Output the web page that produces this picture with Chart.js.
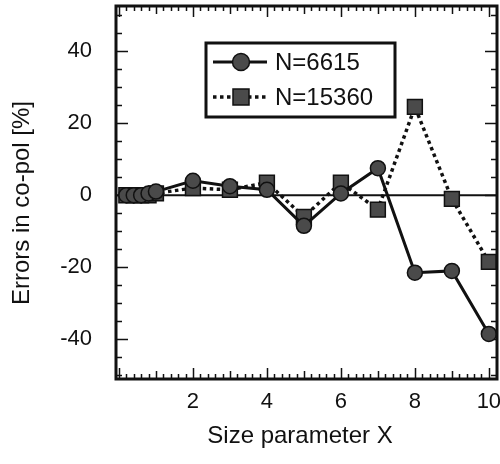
<!DOCTYPE html>
<html>
<head>
<meta charset="utf-8">
<script src="https://cdn.jsdelivr.net/npm/chart.js@4.4.0/dist/chart.umd.min.js"></script>
<style>
  html, body { margin: 0; padding: 0; background: #fff; }
  canvas { display: block; }
</style>
</head>
<body>
<canvas id="canvas" width="500" height="464"></canvas>
<script>
// size parameter X and the co-pol error (%) for the two meshes
const sizeParam = [0.2, 0.4, 0.6, 0.8, 1, 2, 3, 4, 5, 6, 7, 8, 9, 10];
const errN6615 = [0, 0, 0, 0.5, 1, 4, 2.5, 1.5, -8.5, 0.5, 7.5, -21.5, -21, -38.5];
const errN15360 = [0, 0, 0, 0, 0.5, 2, 1.5, 3.5, -6, 3.5, -4, 24.5, -1, -18.5];
const seriesLabels = ['N=6615', 'N=15360'];
const xTicks = [2, 4, 6, 8, 10];
const yTicks = [-40, -20, 0, 20, 40];
const xTitle = 'Size parameter X';
const yTitle = 'Errors in co-pol [%]';

const FONT = "'Liberation Sans', Arial, Helvetica, sans-serif";
const INK = '#111';
const MARK = '#4a4a4a';

function toPoints(ys) {
    return sizeParam.map(function (x, i) { return { x: x, y: ys[i] }; });
}

// keep the plot box where it is: no extra room for edge labels
function noEdgePadding(s) {
    s.paddingLeft = 0;
    s.paddingRight = 0;
    s.paddingTop = 0;
    s.paddingBottom = 0;
}

// box, inward ticks on all four sides and the zero line
const framePlugin = {
    id: 'frame',
    beforeDatasetsDraw(chart) {
        const { ctx, chartArea: a, scales: { x, y } } = chart;
        ctx.save();
        ctx.strokeStyle = INK;
        ctx.lineWidth = 2;
        const y0 = y.getPixelForValue(0);
        ctx.beginPath();
        ctx.moveTo(a.left, y0);
        ctx.lineTo(a.right, y0);
        ctx.stroke();

        ctx.lineWidth = 1.5;
        ctx.beginPath();
        for (let i = 0; i <= 51; i++) {
            const px = Math.round(x.getPixelForValue(i / 5)) + 0.5;
            if (px > a.right - 2) break;
            const len = i % 10 === 0 ? 11 : (i % 5 === 0 ? 8 : 5);
            ctx.moveTo(px, a.bottom);
            ctx.lineTo(px, a.bottom - len);
            ctx.moveTo(px, a.top);
            ctx.lineTo(px, a.top + len);
        }
        for (let v = -50; v <= 50; v += 5) {
            const py = Math.round(y.getPixelForValue(v)) + 0.5;
            const len = v % 20 === 0 ? 12 : 6;
            ctx.moveTo(a.left, py);
            ctx.lineTo(a.left + len, py);
            ctx.moveTo(a.right, py);
            ctx.lineTo(a.right - len, py);
        }
        ctx.stroke();
        ctx.restore();
    },
    afterDatasetsDraw(chart) {
        const { ctx, chartArea: a } = chart;
        ctx.save();
        ctx.strokeStyle = INK;
        ctx.lineWidth = 3;
        ctx.strokeRect(a.left, a.top, a.right - a.left, a.bottom - a.top);
        ctx.restore();
    }
};

// axis titles, placed by hand
const axisTitles = {
    id: 'axisTitles',
    afterDraw(chart) {
        const ctx = chart.ctx;
        ctx.save();
        ctx.fillStyle = INK;
        ctx.font = '24px ' + FONT;
        ctx.textAlign = 'center';
        ctx.textBaseline = 'middle';
        ctx.fillText(xTitle, 300, 436);
        ctx.translate(22, 203);
        ctx.rotate(-Math.PI / 2);
        ctx.fillText(yTitle, 0, 0);
        ctx.restore();
    }
};

// boxed legend in the upper middle of the plot
const legendBox = {
    id: 'legendBox',
    afterDraw(chart) {
        const ctx = chart.ctx;
        const bx = 206, by = 43, bw = 189, bh = 74;
        ctx.save();
        ctx.fillStyle = '#fff';
        ctx.fillRect(bx, by, bw, bh);
        ctx.strokeStyle = INK;
        ctx.lineWidth = 3;
        ctx.strokeRect(bx, by, bw, bh);

        chart.data.datasets.forEach(function (ds, i) {
            const ry = by + 19 + i * 35;
            ctx.strokeStyle = INK;
            ctx.lineWidth = ds.borderWidth;
            ctx.setLineDash(ds.borderDash || []);
            ctx.beginPath();
            ctx.moveTo(213, ry);
            ctx.lineTo(267, ry);
            ctx.stroke();
            ctx.setLineDash([]);
            ctx.fillStyle = MARK;
            ctx.lineWidth = 1.5;
            ctx.beginPath();
            if (ds.pointStyle === 'rect') {
                ctx.rect(233, ry - 8, 16, 16);
            } else {
                ctx.arc(241, ry, 8.5, 0, Math.PI * 2);
            }
            ctx.fill();
            ctx.stroke();

            ctx.fillStyle = INK;
            ctx.font = '24px ' + FONT;
            ctx.textBaseline = 'middle';
            ctx.textAlign = 'left';
            ctx.fillText(ds.label, 275, ry + 1);
        });
        ctx.restore();
    }
};

const config = {
    type: 'line',
    data: {
        datasets: [
            {
                label: seriesLabels[0],
                data: toPoints(errN6615),
                borderColor: INK,
                borderWidth: 3,
                pointStyle: 'circle',
                pointRadius: 7.5,
                pointBackgroundColor: MARK,
                pointBorderColor: INK,
                pointBorderWidth: 1.5,
                tension: 0
            },
            {
                label: seriesLabels[1],
                data: toPoints(errN15360),
                borderColor: INK,
                borderWidth: 3.5,
                borderDash: [3.5, 3.5],
                pointStyle: 'rect',
                pointRadius: 10.5,
                pointBackgroundColor: MARK,
                pointBorderColor: INK,
                pointBorderWidth: 1.5,
                tension: 0
            }
        ]
    },
    options: {
        responsive: false,
        animation: false,
        devicePixelRatio: 1,
        layout: { autoPadding: false, padding: { left: 0, right: 3, top: 6, bottom: 0 } },
        plugins: {
            legend: { display: false },
            tooltip: { enabled: false }
        },
        scales: {
            x: {
                type: 'linear',
                min: -0.08,
                max: 10.22,
                grid: { display: false, drawTicks: false },
                border: { display: false },
                afterBuildTicks: function (s) { s.ticks = xTicks.map(function (v) { return { value: v }; }); },
                afterFit: function (s) { s.height = 85; noEdgePadding(s); },
                ticks: { color: INK, padding: 10, font: { family: FONT, size: 22 } }
            },
            y: {
                min: -51,
                max: 52.5,
                grid: { display: false, drawTicks: false },
                border: { display: false },
                afterBuildTicks: function (s) { s.ticks = yTicks.map(function (v) { return { value: v }; }); },
                afterFit: function (s) { s.width = 116; noEdgePadding(s); },
                ticks: { color: INK, padding: 24, font: { family: FONT, size: 22 } }
            }
        }
    },
    plugins: [framePlugin, axisTitles, legendBox]
};

const chart = new Chart(document.getElementById('canvas').getContext('2d'), config);
</script>
</body>
</html>
